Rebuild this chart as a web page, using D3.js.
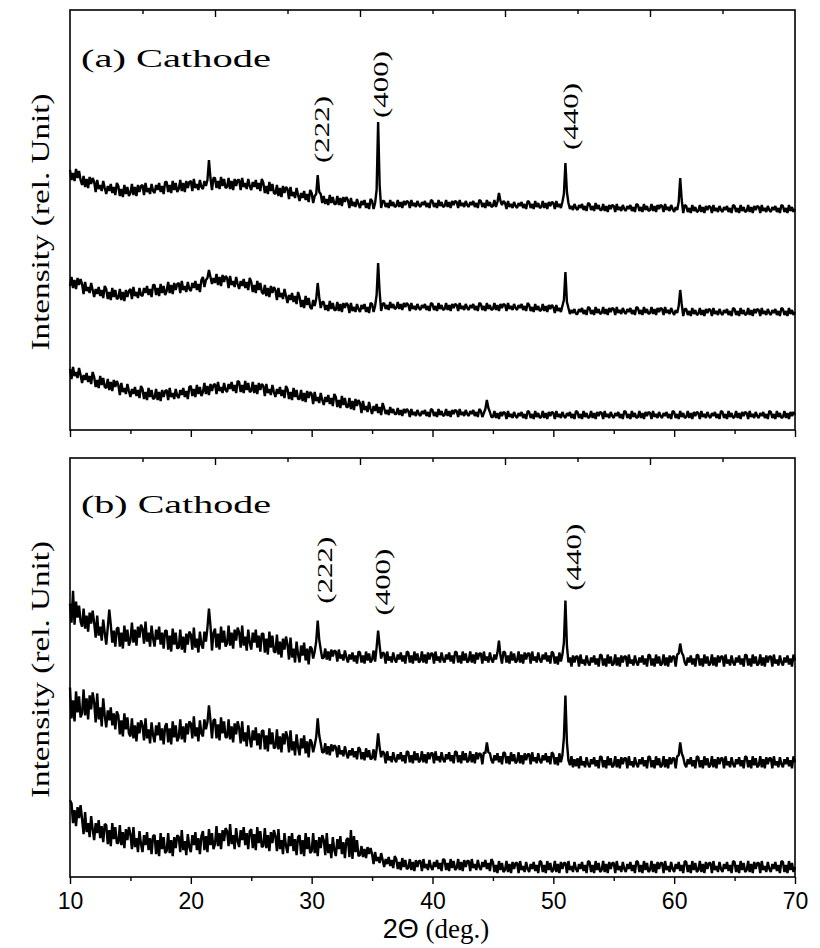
<!DOCTYPE html>
<html lang="en">
<head>
<meta charset="UTF-8">
<title>XRD patterns - Cathode</title>
<script src="https://d3js.org/d3.v7.min.js"></script>
<style>
  body { margin: 0; background: #fff; }
  .trace { fill: none; stroke: #000; stroke-width: 2.4; stroke-linejoin: bevel; }
  .frame { fill: none; stroke: #000; stroke-width: 1.6; }
  .axis path { display: none; }
  .axis line { stroke: #000; stroke-width: 1.4; }
  .serif { font-family: "Liberation Serif", "DejaVu Serif", serif; fill: #000; }
  .sans { font-family: "Liberation Sans", Arial, sans-serif; fill: #000; }
</style>
</head>
<body>
<svg id="chart" width="820" height="948"></svg>
<script>
// scan grid: 10..70 deg, step 0.125 deg (one row of 8 counts per degree below)
const twoTheta = d3.range(10, 70.0001, 0.125);

const xTicks = [10, 20, 30, 40, 50, 60, 70];
const xMinorTicks = [15, 25, 35, 45, 55, 65];
const topMajorTicks = [22, 34, 46, 58];
const topMinorTicks = [16, 28, 40, 52, 64];

const panelTitles = ["(a) Cathode", "(b) Cathode"];

// peak labels: text, position (deg), bottom of label (intensity units)
const hklA = [["(222)", 30.85, 267], ["(400)", 35.66, 312], ["(440)", 51.4, 280]];
const hklB = [["(222)", 31.1, 274], ["(400)", 35.9, 262], ["(440)", 51.7, 287]];

// panel (a), top to bottom
const a1 = [
  260,250,257,249,261,252,259,250,
  245,254,243,251,242,253,246,252,
  248,238,250,241,245,239,249,242,
  236,244,239,246,237,243,235,247,
  244,234,241,233,245,236,243,234,
  237,246,235,243,234,245,238,244,
  245,235,247,238,242,236,246,239,
  237,245,240,247,238,244,236,248,
  248,238,245,237,249,240,247,238,
  241,250,239,247,238,249,242,248,
  249,239,251,242,246,240,250,243,
  241,249,244,250,270,252,240,252,
  252,242,249,241,253,244,251,242,
  243,252,241,249,240,251,244,250,
  250,240,252,243,247,241,251,244,
  240,248,243,250,241,247,239,251,
  247,237,244,236,248,239,246,237,
  236,245,234,242,233,244,237,243,
  241,231,243,234,238,232,242,235,
  229,237,232,239,230,236,228,240,
  237,227,234,236,255,238,236,227,
  234,226,231,225,235,227,233,226,
  226,234,225,232,224,233,228,233,
  230,222,232,224,228,223,231,226,
  222,229,225,230,222,227,221,231,
  229,221,227,240,308,245,222,229,
  229,223,227,222,230,224,228,223,
  224,230,223,228,222,229,225,229,
  228,222,230,224,227,223,229,225,
  223,228,225,229,223,227,222,230,
  229,223,227,222,230,224,228,223,
  224,230,223,228,222,229,225,229,
  228,222,230,224,227,223,229,225,
  223,228,225,229,223,227,222,230,
  229,223,227,222,230,224,228,223,
  224,230,223,228,237,229,225,229,
  227,221,229,223,226,222,228,224,
  222,227,224,228,222,226,221,229,
  228,222,226,221,229,223,227,222,
  223,229,222,227,221,228,224,228,
  227,221,229,223,226,222,228,236,
  267,238,227,221,224,220,226,222,
  220,225,222,226,220,224,219,227,
  226,220,224,219,227,221,225,220,
  220,226,219,224,218,225,221,225,
  224,218,226,220,223,219,225,221,
  219,224,221,225,219,223,218,226,
  225,219,223,218,226,220,224,219,
  220,226,219,224,218,225,221,225,
  224,218,226,220,223,219,225,221,
  218,223,220,228,252,230,217,225,
  224,218,222,217,225,219,223,218,
  219,225,218,223,217,224,220,224,
  223,217,225,219,222,218,224,220,
  218,223,220,224,218,222,217,225,
  224,218,222,217,225,219,223,218,
  219,225,218,223,217,224,220,224,
  223,217,225,219,222,218,224,220,
  218,223,220,224,218,222,217,225,
  224,218,222,217,225,219,223,218,
  221
];
const a2 = [
  144,153,142,150,141,152,145,151,
  146,136,148,139,143,137,147,140,
  133,141,136,143,134,140,132,144,
  141,131,138,130,142,133,140,131,
  132,141,130,138,129,140,133,139,
  141,131,143,134,138,132,142,135,
  134,142,137,144,135,141,133,145,
  145,135,142,134,146,137,144,135,
  139,148,137,145,136,147,140,146,
  147,137,149,140,144,138,148,141,
  139,147,142,149,140,146,138,150,
  153,143,150,152,160,153,146,152,
  147,156,145,153,144,155,148,154,
  152,142,154,145,149,143,153,146,
  141,149,144,151,142,148,140,152,
  148,138,145,137,149,140,147,138,
  136,145,134,142,133,144,137,143,
  140,130,142,133,137,131,141,134,
  127,135,130,137,128,134,126,138,
  133,123,130,122,134,125,132,123,
  121,130,124,131,147,133,122,128,
  128,120,125,119,129,121,127,120,
  120,128,119,126,118,127,122,127,
  125,117,127,119,123,118,126,121,
  118,125,121,126,118,123,117,127,
  126,118,124,135,167,138,119,126,
  127,121,125,120,128,122,126,121,
  122,128,121,126,120,127,123,127,
  125,119,127,121,124,120,126,122,
  120,125,122,126,120,124,119,127,
  126,120,124,119,127,121,125,120,
  121,127,120,125,119,126,122,126,
  125,119,127,121,124,120,126,122,
  120,125,122,126,120,124,119,127,
  126,120,124,119,127,121,125,120,
  121,127,120,125,119,126,122,126,
  125,119,127,121,124,120,126,122,
  120,125,122,126,120,124,119,127,
  125,119,123,118,126,120,124,119,
  120,126,119,124,118,125,121,125,
  123,117,125,119,122,118,124,130,
  158,128,122,116,120,117,121,116,
  116,121,118,122,116,120,115,123,
  122,116,120,115,123,117,121,116,
  117,123,116,121,115,122,118,122,
  121,115,123,117,120,116,122,118,
  116,121,118,122,116,120,115,123,
  122,116,120,115,123,117,121,116,
  117,123,116,121,115,122,118,122,
  121,115,123,117,120,116,122,118,
  115,120,117,124,140,126,114,121,
  121,115,119,114,122,116,120,115,
  116,122,115,120,114,121,117,121,
  120,114,122,116,119,115,121,117,
  115,120,117,121,115,119,114,122,
  121,115,119,114,122,116,120,115,
  116,122,115,120,114,121,117,121,
  120,114,122,116,119,115,121,117,
  115,120,117,121,115,119,114,122,
  121,115,119,114,122,116,120,115,
  118
];
const a3 = [
  61,51,63,54,58,52,62,55,
  47,55,50,57,48,54,46,58,
  53,43,50,42,54,45,52,43,
  42,51,40,48,39,50,43,49,
  45,35,47,38,42,36,46,39,
  33,41,36,43,34,40,32,44,
  41,31,38,30,42,33,40,31,
  32,41,30,38,29,40,33,39,
  40,30,42,33,37,31,41,34,
  32,40,35,42,33,39,31,43,
  44,34,41,33,45,36,43,34,
  38,47,36,44,35,46,39,45,
  46,36,48,39,43,37,47,40,
  38,46,41,48,39,45,37,49,
  48,38,45,37,49,40,47,38,
  39,48,37,45,36,47,40,46,
  44,34,46,37,41,35,45,38,
  33,41,36,43,34,40,32,44,
  41,31,38,30,42,33,40,31,
  31,40,29,37,28,39,32,38,
  36,26,38,29,33,27,37,30,
  25,33,28,35,26,32,24,36,
  33,23,30,22,34,25,32,23,
  23,32,21,29,20,31,24,30,
  27,17,29,20,24,18,28,21,
  16,24,19,26,17,23,15,27,
  22,16,20,15,23,17,21,16,
  16,22,15,20,14,21,17,21,
  19,13,21,15,18,14,20,16,
  14,19,16,20,14,18,13,21,
  20,14,18,13,21,15,19,14,
  15,21,14,19,13,20,16,20,
  19,13,21,15,18,14,20,16,
  14,19,16,20,14,18,13,21,
  19,13,17,21,30,22,18,13,
  13,19,12,17,11,18,14,18,
  17,11,19,13,16,12,18,14,
  12,17,14,18,12,16,11,19,
  18,12,16,11,19,13,17,12,
  13,19,12,17,11,18,14,18,
  17,11,19,13,16,12,18,14,
  12,17,14,18,12,16,11,19,
  18,12,16,11,19,13,17,12,
  13,19,12,17,11,18,14,18,
  17,11,19,13,16,12,18,14,
  12,17,14,18,12,16,11,19,
  18,12,16,11,19,13,17,12,
  13,19,12,17,11,18,14,18,
  17,11,19,13,16,12,18,14,
  12,17,14,18,12,16,11,19,
  18,12,16,11,19,13,17,12,
  13,19,12,17,11,18,14,18,
  17,11,19,13,16,12,18,14,
  12,17,14,18,12,16,11,19,
  18,12,16,11,19,13,17,12,
  13,19,12,17,11,18,14,18,
  17,11,19,13,16,12,18,14,
  12,17,14,18,12,16,11,19,
  18,12,16,11,19,13,17,12,
  13,19,12,17,11,18,14,18,
  15
];

// panel (b), top to bottom
const b1 = [
  274,255,287,253,276,260,272,256,
  251,269,249,262,246,265,254,267,
  255,240,262,242,251,237,258,245,
  233,250,268,253,235,247,231,249,
  250,231,245,229,252,236,248,232,
  237,255,235,248,232,251,240,253,
  249,234,256,236,245,231,252,239,
  231,248,238,251,233,245,229,247,
  247,228,242,226,249,233,245,229,
  230,248,228,241,225,244,233,246,
  243,228,250,230,239,225,246,233,
  229,246,236,250,269,252,227,245,
  249,230,244,228,251,235,247,231,
  234,252,232,245,229,248,237,250,
  245,230,252,232,241,227,248,235,
  228,245,235,248,230,242,226,244,
  244,225,239,223,246,230,242,226,
  225,243,223,236,220,239,228,241,
  233,218,240,220,229,215,236,223,
  215,232,222,235,217,229,213,231,
  229,219,226,236,257,238,228,219,
  220,229,218,226,217,228,221,227,
  226,216,228,219,223,217,227,220,
  215,223,218,225,216,222,214,226,
  225,215,222,214,226,217,224,215,
  218,227,216,230,247,232,219,225,
  224,214,226,217,221,215,225,218,
  215,223,218,225,216,222,214,226,
  225,215,222,214,226,217,224,215,
  217,226,215,223,214,225,218,224,
  224,214,226,217,221,215,225,218,
  215,223,218,225,216,222,214,226,
  225,215,222,214,226,217,224,215,
  217,226,215,223,214,225,218,224,
  224,214,226,217,221,215,225,218,
  215,223,218,225,237,222,214,226,
  225,215,222,214,226,217,224,215,
  217,226,215,223,214,225,218,224,
  224,214,226,217,221,215,225,218,
  215,223,218,225,216,222,214,226,
  224,214,221,213,225,216,223,235,
  277,232,215,220,211,222,215,221,
  221,211,223,214,218,212,222,215,
  212,220,215,222,213,219,211,223,
  222,212,219,211,223,214,221,212,
  214,223,212,220,211,222,215,221,
  221,211,223,214,218,212,222,215,
  212,220,215,222,213,219,211,223,
  222,212,219,211,223,214,221,212,
  214,223,212,220,211,222,215,221,
  221,211,223,224,234,225,222,215,
  212,220,215,222,213,219,211,223,
  222,212,219,211,223,214,221,212,
  214,223,212,220,211,222,215,221,
  221,211,223,214,218,212,222,215,
  212,220,215,222,213,219,211,223,
  222,212,219,211,223,214,221,212,
  214,223,212,220,211,222,215,221,
  221,211,223,214,218,212,222,215,
  212,220,215,222,213,219,211,223,
  217
];
const b2 = [
  190,159,177,156,186,165,181,160,
  164,188,162,179,158,182,168,185,
  175,155,184,158,170,151,179,162,
  150,167,157,170,152,164,148,166,
  162,143,157,141,164,148,160,144,
  141,159,139,152,136,155,144,157,
  152,137,159,139,148,134,155,142,
  135,152,142,155,137,149,133,151,
  154,135,149,133,156,140,152,136,
  140,158,138,151,135,154,143,156,
  154,139,161,141,150,136,157,144,
  141,158,148,155,172,157,139,157,
  158,139,153,137,160,144,156,140,
  140,158,138,151,135,154,143,156,
  149,134,156,136,145,131,152,139,
  130,147,137,150,132,144,128,146,
  147,128,142,126,149,133,145,129,
  130,148,128,141,125,144,133,146,
  140,125,147,127,136,122,143,130,
  122,139,129,142,124,136,120,138,
  135,125,132,140,159,142,134,125,
  125,134,123,131,122,133,126,132,
  130,120,132,123,127,121,131,124,
  119,127,122,129,120,126,118,130,
  128,118,125,117,129,120,127,118,
  119,128,117,128,144,130,120,126,
  124,114,126,117,121,115,125,118,
  115,123,118,125,116,122,114,126,
  125,115,122,114,126,117,124,115,
  117,126,115,123,114,125,118,124,
  124,114,126,117,121,115,125,118,
  115,123,118,125,116,122,114,126,
  125,115,122,114,126,117,124,115,
  117,126,115,123,114,125,118,124,
  123,113,125,124,135,125,124,117,
  114,122,117,124,115,121,113,125,
  124,114,121,113,125,116,123,114,
  116,125,114,122,113,124,117,123,
  123,113,125,116,120,114,124,117,
  114,122,117,124,115,121,113,125,
  123,113,120,112,124,115,122,140,
  182,135,117,112,121,110,118,111,
  119,109,121,112,116,110,120,113,
  110,118,113,120,111,117,109,121,
  120,110,117,109,121,112,119,110,
  112,121,110,118,109,120,113,119,
  119,109,121,112,116,110,120,113,
  110,118,113,120,111,117,109,121,
  120,110,117,109,121,112,119,110,
  112,121,110,118,109,120,113,119,
  119,109,121,122,135,124,120,113,
  110,118,113,120,111,117,109,121,
  120,110,117,109,121,112,119,110,
  112,121,110,118,109,120,113,119,
  119,109,121,112,116,110,120,113,
  110,118,113,120,111,117,109,121,
  120,110,117,109,121,112,119,110,
  112,121,110,118,109,120,113,119,
  119,109,121,112,116,110,120,113,
  110,118,113,120,111,117,109,121,
  115
];
const b3 = [
  77,74,54,67,51,70,59,72,
  58,43,65,45,54,40,61,48,
  37,54,44,57,39,51,35,53,
  52,33,47,31,54,38,50,34,
  34,52,32,45,29,48,37,50,
  43,28,50,30,39,25,46,33,
  25,42,32,45,27,39,23,41,
  42,23,37,21,44,28,40,24,
  26,44,24,37,21,40,29,42,
  40,25,47,27,36,22,43,30,
  25,42,32,45,27,39,23,41,
  46,27,41,25,48,32,44,28,
  33,51,31,44,28,47,36,49,
  46,31,53,33,42,28,49,36,
  30,47,37,50,32,44,28,46,
  48,29,43,27,50,34,46,30,
  31,49,29,42,26,45,34,47,
  41,26,48,28,37,23,44,31,
  24,41,31,44,26,38,22,40,
  42,23,37,21,44,28,40,24,
  26,44,24,37,21,40,29,42,
  37,22,44,24,33,19,40,27,
  21,38,28,41,23,35,19,37,
  39,20,47,18,41,25,37,21,
  22,31,20,28,19,30,23,29,
  23,13,25,16,20,14,24,17,
  10,18,13,20,11,17,9,21,
  18,8,15,7,19,10,17,8,
  9,18,7,15,6,17,10,16,
  16,6,18,9,13,7,17,10,
  7,15,10,17,8,14,6,18,
  17,7,14,6,18,9,16,7,
  9,18,7,15,6,17,10,16,
  16,6,18,9,13,7,17,10,
  7,15,10,17,8,14,6,18,
  15,5,12,4,16,7,14,5,
  7,16,5,13,4,15,8,14,
  14,4,16,7,11,5,15,8,
  5,13,8,15,6,12,4,16,
  15,5,12,4,16,7,14,5,
  7,16,5,13,4,15,8,14,
  14,4,16,7,11,5,15,8,
  5,13,8,15,6,12,4,16,
  15,5,12,4,16,7,14,5,
  7,16,5,13,4,15,8,14,
  14,4,16,7,11,5,15,8,
  5,13,8,15,6,12,4,16,
  15,5,12,4,16,7,14,5,
  7,16,5,13,4,15,8,14,
  14,4,16,7,11,5,15,8,
  5,13,8,15,6,12,4,16,
  15,5,12,4,16,7,14,5,
  7,16,5,13,4,15,8,14,
  14,4,16,7,11,5,15,8,
  5,13,8,15,6,12,4,16,
  15,5,12,4,16,7,14,5,
  7,16,5,13,4,15,8,14,
  14,4,16,7,11,5,15,8,
  5,13,8,15,6,12,4,16,
  15,5,12,4,16,7,14,5,
  10
];

const svg = d3.select("#chart");

const x = d3.scaleLinear().domain([10, 70]).range([70, 795]);

const panels = [
  { top: 10, bottom: 430, title: panelTitles[0], series: [a1, a2, a3], hkl: hklA, labels: false, titleY: 67 },
  { top: 458, bottom: 877, title: panelTitles[1], series: [b1, b2, b3], hkl: hklB, labels: true, titleY: 513 }
];

panels.forEach(p => {
  const y = d3.scaleLinear().domain([0, 420]).range([p.bottom, p.top]);
  const g = svg.append("g");

  // traces
  const line = d3.line().x((d, i) => x(twoTheta[i])).y(d => y(d));
  p.series.forEach(s => {
    if (s.length !== twoTheta.length) console.log("length mismatch", s.length);
    g.append("path").datum(s).attr("class", "trace").attr("d", line);
  });

  // frame
  g.append("rect").attr("class", "frame")
    .attr("x", x(10)).attr("y", p.top)
    .attr("width", x(70) - x(10)).attr("height", p.bottom - p.top);

  // bottom ticks (outward)
  const bottomAxis = g.append("g").attr("class", "axis")
    .attr("transform", "translate(0," + p.bottom + ")")
    .call(d3.axisBottom(x).tickValues(xTicks).tickSize(7).tickPadding(9)
      .tickFormat(p.labels ? d3.format("d") : ""));
  bottomAxis.selectAll("text").attr("class", "sans").style("font-size", "23px");
  g.append("g").attr("class", "axis")
    .attr("transform", "translate(0," + p.bottom + ")")
    .call(d3.axisBottom(x).tickValues(xMinorTicks).tickSize(4).tickFormat(""));

  // top ticks (inward)
  g.append("g").attr("class", "axis")
    .attr("transform", "translate(0," + p.top + ")")
    .call(d3.axisTop(x).tickValues(topMajorTicks).tickSize(-7).tickFormat(""));
  g.append("g").attr("class", "axis")
    .attr("transform", "translate(0," + p.top + ")")
    .call(d3.axisTop(x).tickValues(topMinorTicks).tickSize(-4).tickFormat(""));

  // panel title
  g.append("text").attr("class", "serif")
    .attr("x", 81).attr("y", p.titleY)
    .attr("textLength", 190).attr("lengthAdjust", "spacingAndGlyphs")
    .style("font-size", "26px").text(p.title);

  // hkl labels
  p.hkl.forEach(h => {
    g.append("text").attr("class", "serif")
      .attr("transform", "translate(" + x(h[1]) + "," + y(h[2]) + ") rotate(-90)")
      .attr("dominant-baseline", "central")
      .attr("textLength", 67).attr("lengthAdjust", "spacingAndGlyphs")
      .style("font-size", "22px").text(h[0]);
  });

  // y label
  g.append("text").attr("class", "serif")
    .attr("transform", "translate(40," + ((p.top + p.bottom) / 2 + 2) + ") rotate(-90)")
    .attr("text-anchor", "middle").attr("dominant-baseline", "central")
    .attr("textLength", 257).attr("lengthAdjust", "spacingAndGlyphs")
    .style("font-size", "26px").text("Intensity (rel. Unit)");
});

// x axis title
const xt = svg.append("text").attr("x", 436).attr("y", 938)
  .attr("text-anchor", "middle").style("font-size", "27px");
xt.append("tspan").attr("class", "sans").text("2Θ");
xt.append("tspan").attr("class", "serif").text(" (deg.)");
</script>
</body>
</html>
